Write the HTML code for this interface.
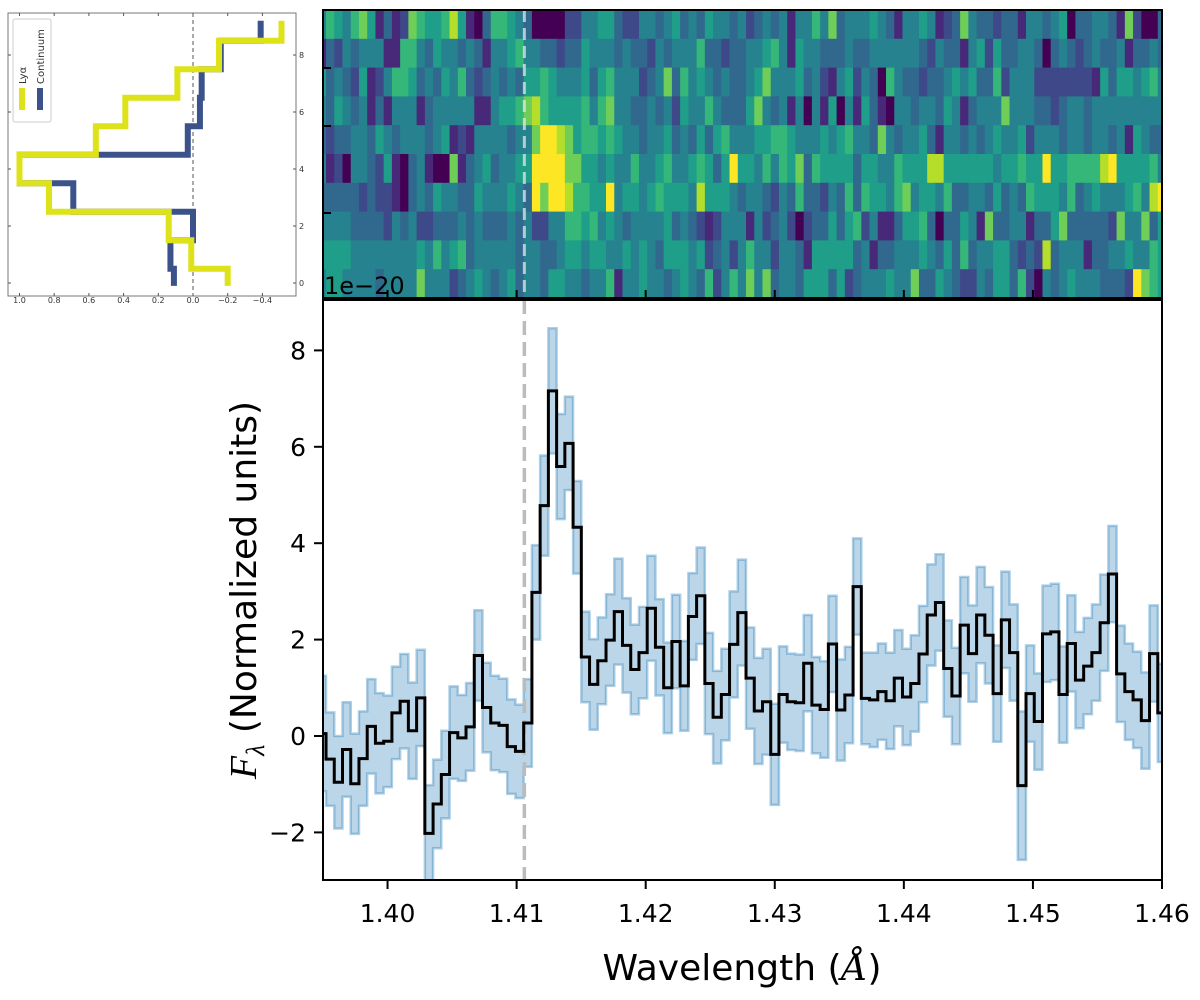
<!DOCTYPE html>
<html><head><meta charset="utf-8"><style>
html,body{margin:0;padding:0;background:#fff;}
svg{display:block;font-family:"DejaVu Sans","Liberation Sans",sans-serif;}
</style></head><body>
<svg id="fig" width="1200" height="1000" viewBox="0 0 1200 1000">
<defs>
<clipPath id="mainclip"><rect x="323" y="300" width="839" height="580"/></clipPath>
<clipPath id="heatclip"><rect x="323" y="10" width="839" height="288"/></clipPath>
<clipPath id="insetclip"><rect x="8" y="13" width="288" height="283"/></clipPath>
</defs>
<g id="heat" clip-path="url(#heatclip)"></g>
<g id="main"></g>
<g id="inset"></g>
</svg>
<script>
// ---- main spectrum data ----
const binStart = 1.394597;
const binStep = 0.000638;
const flux = [0.05,-0.48,-0.96,-0.28,-0.99,-0.47,0.2,-0.15,-0.11,0.48,
0.72,0.11,0.79,-2.02,-1.41,-0.8,0.07,-0.04,0.19,1.67,
0.59,0.27,0.22,-0.22,-0.32,0.27,2.98,4.78,7.16,5.59,
6.07,4.33,1.64,1.07,1.56,1.99,2.58,1.88,1.38,1.73,
2.65,1.84,1.0,1.96,1.04,2.48,2.91,1.09,0.39,0.86,
1.9,2.56,1.2,0.52,0.71,-0.38,0.86,0.71,0.69,1.51,
0.64,0.55,1.91,0.54,0.85,3.1,0.78,0.75,0.92,0.73,
1.2,0.81,1.09,1.7,2.51,2.77,1.4,0.83,2.3,1.71,
2.51,2.09,0.88,2.41,1.73,-1.03,0.88,0.3,2.12,2.16,
0.86,1.92,1.16,1.45,1.73,2.35,3.36,1.29,0.92,0.75,
0.32,1.71,0.48];
const err = [1.2,0.97,0.96,0.98,1.04,0.98,0.98,1.04,0.95,0.96,
0.98,1.0,1.0,1.0,0.92,0.91,0.96,0.89,0.91,0.94,
0.93,0.98,0.97,0.98,0.97,0.91,0.98,1.04,1.3,1.09,
0.97,0.96,0.94,0.94,0.9,0.95,1.1,0.98,0.93,0.95,
1.09,1.0,0.94,0.97,0.93,0.9,1.0,1.05,0.96,0.95,
1.1,1.1,1.05,1.1,1.1,1.05,1.0,1.0,1.0,1.0,
1.0,1.0,1.0,1.05,1.0,1.0,0.95,0.98,1.0,1.0,
1.0,1.0,1.0,1.0,1.05,1.0,1.0,1.0,1.0,1.0,
1.0,1.0,1.0,1.0,1.0,1.54,1.0,1.0,1.0,1.0,
1.0,1.0,1.0,1.0,1.0,1.0,1.0,1.0,1.0,1.0,
1.0,1.0,1.02];
const xTicks = [1.40,1.41,1.42,1.43,1.44,1.45,1.46];
const xTickLabels = ["1.40","1.41","1.42","1.43","1.44","1.45","1.46"];
const yTicks = [-2,0,2,4,6,8];
const yTickLabels = ["\u22122","0","2","4","6","8"];
const lyaLine = 1.4106;

// ---- heatmap data (viridis level 0-9) ----
const heatRows = [
"4654675131 2765568510 3665430000 2244553224 4345343544 3423434144 6473444543 1445412374 3323314434 5033443172 003",
"1324344411 6643544343 1445644332 3354443433 2434446332 3344564154 4333433444 4443243314 5253344303 4323433413 343",
"5343251246 6534354632 3434355654 4453564442 3473645434 3345744453 4214524306 4332334545 3362444222 2222153554 564",
"4354341314 4413444441 1455678655 5564674433 4342544643 3357434140 4150415310 4434435413 4447444332 3443444444 444",
"3233443543 4443451214 4443447998 7566565443 4453435356 4445566544 4545644374 3445314434 3454452444 3443443415 433",
"4120443251 0341007134 5344559999 7755454464 4564456535 9554646573 6555535544 6555885555 5545565595 5666689555 564",
"3333323221 0343544335 4445439799 8665594554 5655548555 4344324363 3243636554 6745546334 4353436555 4634544456 489",
"4444333324 3422333434 3334342244 6656454344 4453432124 4414234202 3353562411 3556303354 1733441335 7333332744 735",
"5555444444 4454645634 4444344334 5545544545 4355545234 2464424431 5555534133 4445435363 4455323283 4441334454 465",
"4554444344 4474442345 4345344355 4434461445 4434543624 6474734435 5535234445 4473354322 4355362043 4544433329 765"
];
const viridis = ["#440154","#482878","#3e4989","#31688e","#26828e","#1f9e89","#35b779","#6ece58","#b5de2b","#fde725"];

// ---- inset profile data ----
const profRows = [0,1,2,3,4,5,6,7,8,9];
const lyaProfile = [-0.2,0.01,0.14,0.83,1.0,0.56,0.39,0.09,-0.15,-0.51];
const contProfile = [0.11,0.13,0.0,0.69,1.0,0.03,-0.04,-0.05,-0.16,-0.39];
const insetXTicks = [1.0,0.8,0.6,0.4,0.2,0.0,-0.2,-0.4];
const insetXLabels = ["1.0","0.8","0.6","0.4","0.2","0.0","\u22120.2","\u22120.4"];
const insetYTicks = [0,2,4,6,8];
const insetYLabels = ["0","2","4","6","8"];

const NS = "http://www.w3.org/2000/svg";
function mk(tag, attrs, parent){const e=document.createElementNS(NS,tag);for(const k in attrs)e.setAttribute(k,attrs[k]);parent.appendChild(e);return e;}

const X0=323, X1=1162, Y0=300, Y1=880;
const xmin=1.395, xmax=1.46;
function xs(w){return X0+(w-xmin)/(xmax-xmin)*(X1-X0);}
function ys(v){return 736 - v*48.2;}
function edge(k){return binStart+k*binStep;}

// heatmap
const heat=document.getElementById('heat');
const rowH=(298-10)/heatRows.length;
heatRows.forEach((row,r)=>{
  const vals=row.replace(/ /g,'');
  for(let k=0;k<vals.length;k++){
    const xa=xs(edge(k)), xb=xs(edge(k+1));
    const c=mk('rect',{x:xa.toFixed(2),y:(10+r*rowH).toFixed(2),width:(xb-xa+0.4).toFixed(2),height:(rowH+0.4).toFixed(2),fill:viridis[+vals[k]]},heat);
    
    
  }
});
const svg=document.getElementById('fig');
let hl=mk('line',{x1:xs(lyaLine),x2:xs(lyaLine),y1:10,y2:298,stroke:"#e6e6e6","stroke-opacity":0.75,"stroke-width":3,"stroke-dasharray":"12,6"},svg);

let hf=mk('rect',{x:323,y:10,width:839,height:288,fill:"none",stroke:"#000","stroke-width":2},svg);

[68,126,213].forEach(y=>{mk('line',{x1:323,x2:331,y1:y,y2:y,stroke:"#000","stroke-width":2},svg);});
xTicks.forEach(t=>{mk('line',{x1:xs(t),x2:xs(t),y1:298,y2:290,stroke:"#000","stroke-width":2},svg);});
let sci=mk('text',{x:324,y:294,"font-size":24,fill:"#000"},svg);sci.textContent="1e\u221220";


// main plot
const main=document.getElementById('main');
const clipG=mk('g',{"clip-path":"url(#mainclip)"},main);
let up="",lo=[];
for(let k=0;k<flux.length;k++){
  const xa=xs(edge(k)),xb=xs(edge(k+1));
  up+=(k===0?"M":"L")+xa.toFixed(2)+","+ys(flux[k]+err[k]).toFixed(2)+"L"+xb.toFixed(2)+","+ys(flux[k]+err[k]).toFixed(2);
  lo.push([xa,ys(flux[k]-err[k])],[xb,ys(flux[k]-err[k])]);
}
lo.reverse();
let bandD=up+lo.map(p=>"L"+p[0].toFixed(2)+","+p[1].toFixed(2)).join("")+"Z";
let band=mk('path',{d:bandD,fill:"#1f77b4","fill-opacity":0.3,stroke:"#1f77b4","stroke-opacity":0.35,"stroke-width":2.5},clipG);

let dl=mk('line',{x1:xs(lyaLine),x2:xs(lyaLine),y1:Y0,y2:Y1,stroke:"#bbbbbb","stroke-width":3.5,"stroke-dasharray":"14,7"},clipG);

let sd="";
for(let k=0;k<flux.length;k++){
  const xa=xs(edge(k)),xb=xs(edge(k+1)),y=ys(flux[k]);
  sd+=(k===0?"M":"L")+xa.toFixed(2)+","+y.toFixed(2)+"L"+xb.toFixed(2)+","+y.toFixed(2);
}
let st=mk('path',{d:sd,fill:"none",stroke:"#000","stroke-width":3,"stroke-linejoin":"miter"},clipG);

let fr=mk('rect',{x:X0,y:Y0,width:X1-X0,height:Y1-Y0,fill:"none",stroke:"#000","stroke-width":2},main);

xTicks.forEach((t,i)=>{
  mk('line',{x1:xs(t),x2:xs(t),y1:Y1,y2:Y1+9,stroke:"#000","stroke-width":2},main);
  const tx=mk('text',{x:xs(t),y:922,"font-size":25,"text-anchor":"middle",fill:"#000"},main);
  tx.textContent=xTickLabels[i];
  
});
yTicks.forEach((t,i)=>{
  mk('line',{x1:X0,x2:X0-9,y1:ys(t),y2:ys(t),stroke:"#000","stroke-width":2},main);
  const tx=mk('text',{x:306,y:ys(t)+9,"font-size":25,"text-anchor":"end",fill:"#000"},main);
  tx.textContent=yTickLabels[i];
  
});
let xt=mk('text',{x:742,y:980,"font-size":36,"text-anchor":"middle",fill:"#000"},main);
xt.innerHTML='Wavelength (<tspan font-style="italic" font-family="DejaVu Serif, Liberation Serif, serif">Å</tspan>)';

let yt=mk('text',{x:0,y:0,"font-size":36,"text-anchor":"middle",fill:"#000",transform:"translate(256,590) rotate(-90)"},main);
yt.innerHTML='<tspan font-family="Liberation Serif, serif" font-style="italic" font-size="38">F</tspan><tspan font-family="Liberation Serif, serif" font-style="italic" font-size="26" dy="8">λ</tspan><tspan dy="-8"> (Normalized units)</tspan>';


// inset
const inset=document.getElementById('inset');
const IX0=8,IX1=296,IY0=13,IY1=296;
function ixs(v){return 193-v*173.5;}
function iys(v){return 283-v*28.5;}
let ib=mk('rect',{x:IX0,y:IY0,width:IX1-IX0,height:IY1-IY0,fill:"#fff",stroke:"#777","stroke-width":1},inset);

insetXTicks.forEach((t,i)=>{
  mk('line',{x1:ixs(t),x2:ixs(t),y1:IY1,y2:IY1-3,stroke:"#555","stroke-width":1},inset);
  mk('line',{x1:ixs(t),x2:ixs(t),y1:IY0,y2:IY0+3,stroke:"#555","stroke-width":1},inset);
  const tx=mk('text',{x:ixs(t),y:303,"font-size":8,"text-anchor":"middle",fill:"#333"},inset);
  tx.textContent=insetXLabels[i];
  
});
insetYTicks.forEach((t,i)=>{
  mk('line',{x1:IX1,x2:IX1-3,y1:iys(t),y2:iys(t),stroke:"#555","stroke-width":1},inset);
  mk('line',{x1:IX0,x2:IX0+3,y1:iys(t),y2:iys(t),stroke:"#555","stroke-width":1},inset);
  const tx=mk('text',{x:299,y:iys(t)+3,"font-size":8,fill:"#333"},inset);
  tx.textContent=insetYLabels[i];
  
});
const ig=mk('g',{"clip-path":"url(#insetclip)"},inset);
let zl=mk('line',{x1:ixs(0),x2:ixs(0),y1:IY0,y2:IY1,stroke:"#555","stroke-width":1,"stroke-dasharray":"4,3"},ig);

function profPath(vals){
  let d="";
  for(let i=0;i<vals.length;i++){
    const ya=iys(profRows[i]-(i===0?0.1:0.5)), yb=iys(profRows[i]+(i===vals.length-1?0.2:0.5)), x=ixs(vals[i]);
    d+=(i===0?"M":"L")+x.toFixed(2)+","+ya.toFixed(2)+"L"+x.toFixed(2)+","+yb.toFixed(2);
  }
  return d;
}
let cp=mk('path',{d:profPath(contProfile),fill:"none",stroke:"#3b528b","stroke-width":6},ig);

let lp=mk('path',{d:profPath(lyaProfile),fill:"none",stroke:"#dde318","stroke-width":6},ig);

let lg=mk('rect',{x:13,y:19,width:38,height:103,rx:2,fill:"#fff",stroke:"#ccc","stroke-width":1},inset);

mk('line',{x1:22,x2:22,y1:88,y2:110,stroke:"#dde318","stroke-width":6},inset);
mk('line',{x1:40,x2:40,y1:88,y2:110,stroke:"#3b528b","stroke-width":6},inset);
let t1=mk('text',{x:0,y:0,"font-size":10,fill:"#333",transform:"translate(26,84) rotate(-90)"},inset);t1.textContent="Lyα";

let t2=mk('text',{x:0,y:0,"font-size":10,fill:"#333",transform:"translate(44,84) rotate(-90)"},inset);t2.textContent="Continuum";

</script>
</body></html>
